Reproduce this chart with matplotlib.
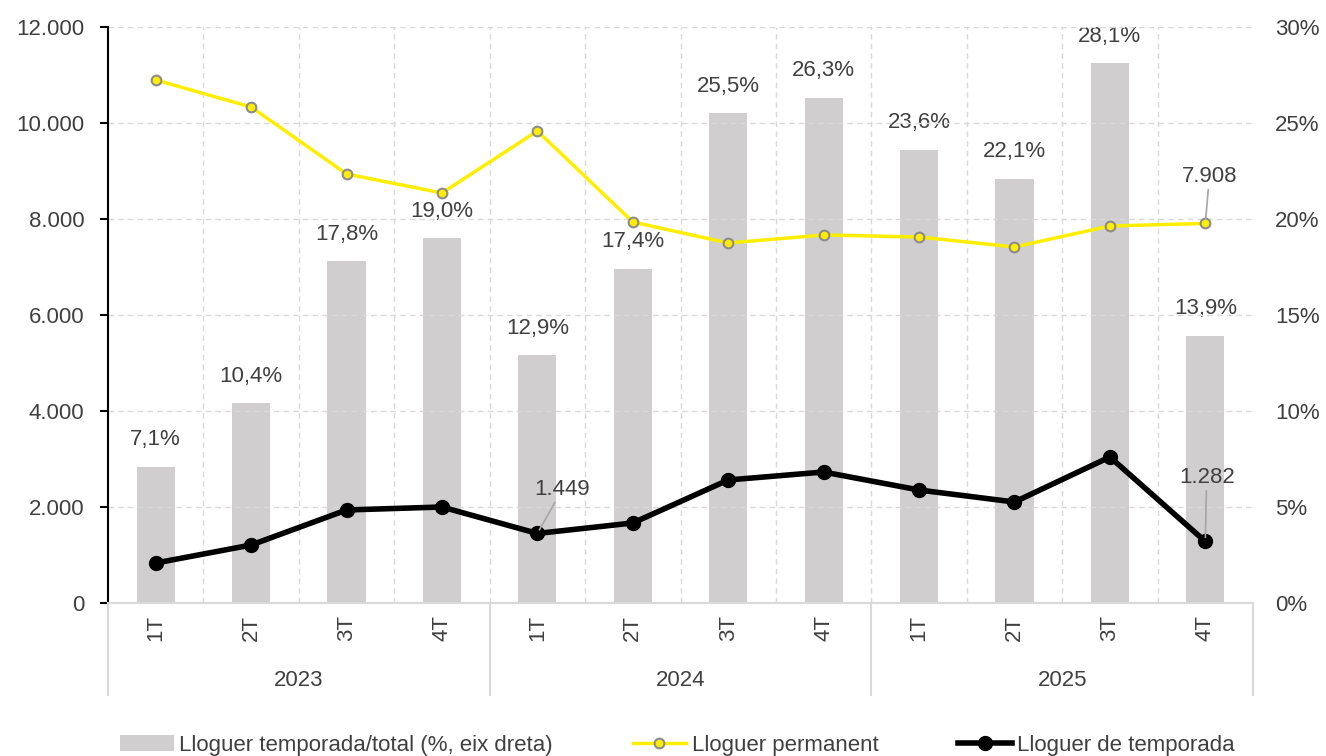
import matplotlib
matplotlib.use("Agg")
import matplotlib.pyplot as plt
from matplotlib.lines import Line2D
from matplotlib.patches import Patch
import matplotlib.transforms as mtransforms

plt.rcParams['font.family'] = ['Liberation Sans', 'DejaVu Sans']

quarters = ["1T", "2T", "3T", "4T"] * 3
years = ["2023", "2024", "2025"]
share_pct = [7.1, 10.4, 17.8, 19.0, 12.9, 17.4, 25.5, 26.3, 23.6, 22.1, 28.1, 13.9]
permanent = [10896, 10333, 8938, 8542, 9833, 7938, 7500, 7667, 7625, 7417, 7854, 7908]
seasonal = [833, 1208, 1938, 2000, 1449, 1667, 2563, 2729, 2354, 2104, 3042, 1282]

def fmt_thousands(v):
    return f"{int(round(v)):,}".replace(",", ".")

TXT = "#404040"
GRID = "#d9d9d9"
BAR = "#d0cece"
YEL = "#ffee00"
FS = 16

fig = plt.figure(figsize=(13.26, 7.56), dpi=100)
ax = fig.add_axes([108/1326, 1-603/756, (1253-108)/1326, 576/756])
ax2 = ax.twinx()
ax.set_zorder(ax2.get_zorder() + 1)
ax.patch.set_visible(False)

n = len(quarters)
x = list(range(n))

# bars on right axis
ax2.bar(x, share_pct, width=0.4, color=BAR, zorder=2)
ax2.set_ylim(0, 30)
ax2.set_yticks(range(0, 31, 5))
ax2.set_yticklabels([f"{v}%" for v in range(0, 31, 5)], fontsize=FS, color=TXT)
ax2.tick_params(axis='y', length=0, pad=16)
for s in ax2.spines.values():
    s.set_visible(False)
for xi, v in zip(x, share_pct):
    ax2.annotate(f"{v:.1f}%".replace(".", ","), (xi, v), xytext=(0, 12),
                 textcoords="offset points", ha="center", va="bottom",
                 fontsize=FS, color=TXT)

# lines on left axis
ax.plot(x, permanent, color=YEL, lw=2.5, marker="o", ms=7,
        mfc=YEL, mec="#8c8c8c", mew=1.5, zorder=4)
ax.plot(x, seasonal, color="black", lw=4, marker="o", ms=10,
        mfc="black", mec="black", zorder=5)

ax.set_xlim(-0.5, n - 0.5)
ax.set_ylim(0, 12000)
ax.set_yticks(range(0, 12001, 2000))
ax.set_yticklabels([fmt_thousands(v) for v in range(0, 12001, 2000)], fontsize=FS, color=TXT)
ax.tick_params(axis='y', length=6, width=1.5, color="black", pad=11)
ax.spines['left'].set_color("black")
ax.spines['left'].set_linewidth(1.5)
ax.spines['top'].set_visible(False)
ax.spines['right'].set_visible(False)
ax.spines['bottom'].set_color(GRID)
ax.spines['bottom'].set_linewidth(1.5)

# grid
ax.yaxis.grid(True, color=GRID, ls=(0, (4, 3)), lw=1)
for b in range(1, n):
    ax.axvline(b - 0.5, color=GRID, ls=(0, (4, 3)), lw=1, zorder=0)
ax.set_axisbelow(True)

# x labels (multi-level)
ax.set_xticks([])
trans = mtransforms.blended_transform_factory(ax.transData, ax.transAxes)
for xi, q in zip(x, quarters):
    ax.text(xi, -0.043, q, rotation=90, ha="center", va="center",
            fontsize=FS, color=TXT, transform=trans)
for k, yr in enumerate(years):
    ax.text(4 * k + 1.5, -0.134, yr, ha="center", va="center",
            fontsize=FS, color=TXT, transform=trans)
for b in [0, 4, 8, 12]:
    ax.plot([b - 0.5, b - 0.5], [0, -0.16], color=GRID, lw=1.5,
            transform=trans, clip_on=False)

# line labels with leader lines
arrow = dict(arrowstyle="-", color="#a6a6a6", lw=1.2, shrinkA=0, shrinkB=3)
ax.annotate(fmt_thousands(seasonal[4]), (4, seasonal[4]), xytext=(18, 32),
            textcoords="offset points", ha="center", va="center",
            fontsize=FS, color=TXT, arrowprops=arrow, zorder=6)
ax.annotate(fmt_thousands(permanent[11]), (11, permanent[11]), xytext=(3, 34),
            textcoords="offset points", ha="center", va="center",
            fontsize=FS, color=TXT, arrowprops=arrow, zorder=6)
ax.annotate(fmt_thousands(seasonal[11]), (11, seasonal[11]), xytext=(1, 46),
            textcoords="offset points", ha="center", va="center",
            fontsize=FS, color=TXT, arrowprops=arrow, zorder=6)

# legend
handles = [
    Patch(facecolor=BAR, edgecolor="none"),
    Line2D([], [], color=YEL, lw=2.5, marker="o", ms=7, mfc=YEL, mec="#8c8c8c", mew=1.5),
    Line2D([], [], color="black", lw=4, marker="o", ms=10, mfc="black"),
]
labels = ["Lloguer temporada/total (%, eix dreta)", "Lloguer permanent", "Lloguer de temporada"]
fig.legend(handles, labels, loc="center", bbox_to_anchor=(0.511, 1 - 745/756),
           ncol=3, frameon=False, fontsize=FS, handlelength=2.4,
           columnspacing=3.6, handletextpad=0.25, labelcolor=TXT)

fig.savefig("out.png", dpi=100)
